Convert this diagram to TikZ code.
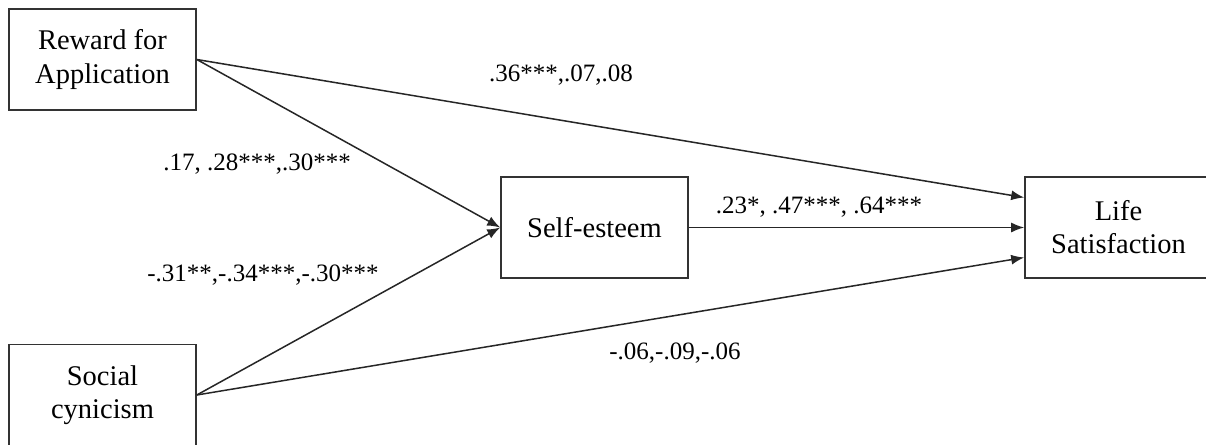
\documentclass[tikz,border=0pt]{standalone}
\usepackage{fontspec}
\setmainfont{Liberation Serif}
\usetikzlibrary{arrows.meta,calc}
\begin{document}
\begin{tikzpicture}[x=1pt,y=-1pt,
  box/.style={draw=black!80,line width=1.6pt,minimum width=187pt,minimum height=101pt,inner sep=0pt,align=center,font=\fontsize{28.5}{33}\selectfont},
  lbl/.style={font=\fontsize{25}{29}\selectfont,inner sep=0pt},
  conn/.style={draw=black!85,line width=1.5pt,-{Latex[length=13pt,width=10pt]}}]
\useasboundingbox (0,0) rectangle (1206,444);
\clip (0,0) rectangle (1206,444);
\node[box] (rew) at (102.5,59.5) {Reward for\\Application};
\node[box] (soc) at (102.5,395) {Social\\cynicism};
\node[box] (self) at (594.5,227.5) {Self-esteem};
\node[box] (life) at (1118.5,227.5) {Life\\Satisfaction};
\coordinate (lifeT) at ($(life.west)+(0,-30)$);
\coordinate (lifeB) at ($(life.west)+(0,30)$);
\draw[conn] (rew.east) -- (self.west);
\draw[conn] (soc.east) -- (self.west);
\draw[conn] (rew.east) -- (lifeT);
\draw[conn] (soc.east) -- (lifeB);
\draw[conn] (self.east) -- (life.west);
\node[lbl] (l1) at (561,75) {.36***,.07,.08};
\node[lbl] (l2) at (257,164) {.17, .28***,.30***};
\node[lbl] (l3) at (263,275) {-.31**,-.34***,-.30***};
\node[lbl] (l4) at (819,207) {.23*, .47***, .64***};
\node[lbl] (l5) at (675,353) {-.06,-.09,-.06};
\end{tikzpicture}
\end{document}
